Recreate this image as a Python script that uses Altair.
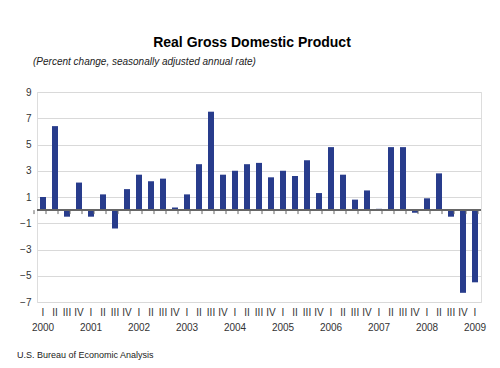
import altair as alt
import pandas as pd

years = ["2000", "2001", "2002", "2003", "2004", "2005", "2006", "2007", "2008", "2009"]
quarters = ["I", "II", "III", "IV"]
values = [1.0, 6.4, -0.5, 2.1,
          -0.5, 1.2, -1.4, 1.6,
          2.7, 2.2, 2.4, 0.2,
          1.2, 3.5, 7.5, 2.7,
          3.0, 3.5, 3.6, 2.5,
          3.0, 2.6, 3.8, 1.3,
          4.8, 2.7, 0.8, 1.5,
          0.1, 4.8, 4.8, -0.2,
          0.9, 2.8, -0.5, -6.3,
          -5.5]
y_ticks = [-7, -5, -3, -1, 1, 3, 5, 7, 9]

keys = []
for y in years:
    for q in quarters:
        if len(keys) < len(values):
            keys.append(f"{y}-{q}")

df = pd.DataFrame({"key": keys, "value": values})
order = keys

FONT = "Liberation Sans"
W, H = 444, 210
STEP = W / len(keys)

x_enc = alt.X(
    "key:O", sort=order,
    scale=alt.Scale(paddingInner=0.5, paddingOuter=0.25),
    axis=alt.Axis(
        title=None, domain=False, ticks=False, labelAngle=0,
        labelPadding=5, labelFontSize=10, labelColor="#333333",
        labelFont=FONT, labelLineHeight=15, labelBaseline="top",
        labelOverlap=False,
        labelExpr="split(datum.value,'-')[1] == 'I' ? [split(datum.value,'-')[1], split(datum.value,'-')[0]] : [split(datum.value,'-')[1], '']",
    ),
)
y_scale = alt.Scale(domain=[-7, 9], nice=False, zero=False)
y_enc = alt.Y(
    "value:Q", scale=y_scale,
    axis=alt.Axis(
        title=None, values=y_ticks, tickCount=20, domain=False, ticks=False,
        labelOverlap=False, labelBound=False, labelFlush=False,
        labelPadding=6, labelFontSize=10, labelColor="#333333", labelFont=FONT,
        gridColor="#d9d9d9", gridWidth=1,
    ),
)

bars = alt.Chart(df).mark_bar(color="#283c8c").encode(x=x_enc, y=y_enc)

zero_line = alt.Chart(df).mark_rule(color="#666666", strokeWidth=1).encode(
    y=alt.datum(0, scale=y_scale)
)

ticks_left = alt.Chart(df).mark_rule(color="#666666", strokeWidth=1).encode(
    x=alt.X("key:O", sort=order),
    xOffset=alt.value(-STEP / 2),
    y=alt.datum(0),
    y2=alt.datum(-0.3),
)
ticks_right = alt.Chart(df.tail(1)).mark_rule(color="#666666", strokeWidth=1).encode(
    x=alt.X("key:O", sort=order),
    xOffset=alt.value(STEP / 2),
    y=alt.datum(0),
    y2=alt.datum(-0.3),
)

title = alt.Chart(df.head(1)).mark_text(
    text="Real Gross Domestic Product", font=FONT, fontSize=14, fontWeight="bold",
    align="center", baseline="middle", color="#000000",
).encode(x=alt.value(215), y=alt.value(-49))

subtitle = alt.Chart(df.head(1)).mark_text(
    text="(Percent change, seasonally adjusted annual rate)", font=FONT, fontSize=10,
    fontStyle="italic", align="left", baseline="middle", color="#222222",
).encode(x=alt.value(-4), y=alt.value(-30))

source = alt.Chart(df.head(1)).mark_text(
    text="U.S. Bureau of Economic Analysis", font=FONT, fontSize=9,
    align="left", baseline="middle", color="#222222",
).encode(x=alt.value(-20), y=alt.value(263))

chart = alt.layer(bars, zero_line, ticks_left, ticks_right, title, subtitle, source).properties(
    width=W, height=H,
    autosize=alt.AutoSizeParams(type="none"),
    padding={"left": 29, "top": 84, "right": 11, "bottom": 58},
).configure_view(stroke=None).configure(background="white")

chart.save("out.html", embed_options={"renderer": "svg", "actions": False})
